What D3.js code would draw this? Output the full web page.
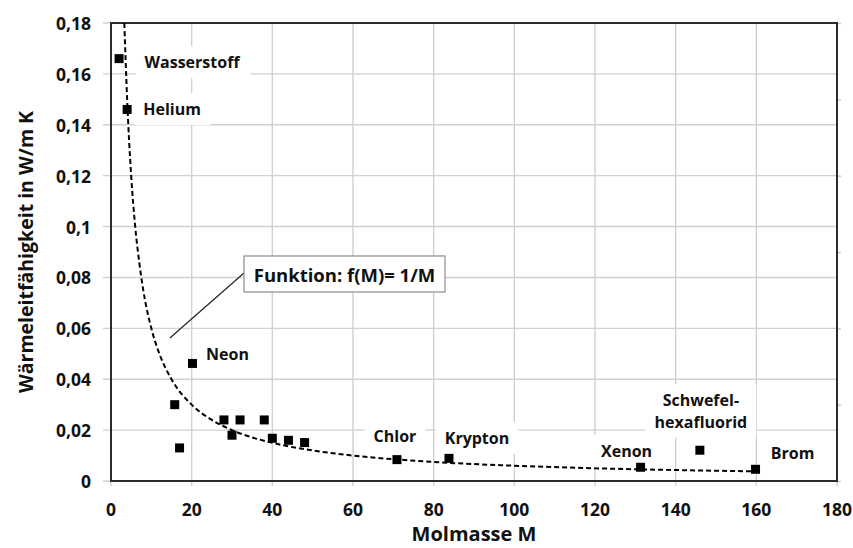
<!DOCTYPE html>
<html>
<head>
<meta charset="utf-8">
<script src="https://cdn.jsdelivr.net/npm/d3@7"></script>
<style>
  body { margin: 0; background: #fff; }
  svg text { font-family: "Open Sans", Lato, sans-serif; font-weight: 700; fill: #111; }
</style>
</head>
<body>
<div id="chart"></div>
<script>
// measured gases: molar mass M and thermal conductivity (W/m K)
const gasNames = ["Wasserstoff", "Helium", "Neon", "", "", "", "", "", "", "", "", "", "Chlor", "Krypton", "Xenon", "Schwefel-\nhexafluorid", "Brom"];
const molMass  = [2, 4, 20.2, 15.8, 17, 28, 30, 32, 38, 40, 44, 48, 70.9, 83.8, 131.3, 146, 159.8];
const conduct  = [0.166, 0.146, 0.0462, 0.030, 0.013, 0.024, 0.018, 0.024, 0.024, 0.0168, 0.016, 0.0151, 0.0084, 0.0089, 0.0054, 0.0121, 0.0046];

// dashed curve f(M)
const curveM   = [3.3, 4, 5, 6, 7, 8, 10, 12, 15, 20, 25, 30, 40, 50, 60, 80, 100, 120, 140, 160];
const curveVal = [0.18, 0.15, 0.12, 0.10, 0.086, 0.075, 0.06, 0.05, 0.04, 0.03, 0.024, 0.02, 0.015, 0.012, 0.01, 0.0075, 0.006, 0.005, 0.0043, 0.0038];

const xTicks = [0, 20, 40, 60, 80, 100, 120, 140, 160, 180];
const yTicks = [0, 0.02, 0.04, 0.06, 0.08, 0.1, 0.12, 0.14, 0.16, 0.18];
const yTickLabels = ["0", "0,02", "0,04", "0,06", "0,08", "0,1", "0,12", "0,14", "0,16", "0,18"];

// label placement relative to each marker (center of text)
const labelOffsets = {
    "Wasserstoff": [73, 4],
    "Helium": [45, 0],
    "Neon": [35, -9],
    "Chlor": [-2, -23],
    "Krypton": [28, -20],
    "Xenon": [-14, -16],
    "Schwefel-\nhexafluorid": [1, -39],
    "Brom": [37, -16]
};

const width = 853, height = 548;
const plotL = 111, plotR = 837, plotT = 23, plotB = 481;

const svg = d3.select("#chart").append("svg")
    .attr("width", width)
    .attr("height", height);

const x = d3.scaleLinear().domain([0, 180]).range([plotL, plotR]);
const y = d3.scaleLinear().domain([0, 0.18]).range([plotB, plotT]);

// grid
const grid = svg.append("g");
grid.selectAll("line.v").data(xTicks).enter().append("line")
    .attr("x1", d => x(d)).attr("x2", d => x(d))
    .attr("y1", plotT).attr("y2", plotB + 5)
    .attr("stroke", "#d0d0d0").attr("stroke-width", 1.4);
grid.selectAll("line.h").data(yTicks).enter().append("line")
    .attr("x1", plotL - 8).attr("x2", plotR)
    .attr("y1", d => y(d)).attr("y2", d => y(d))
    .attr("stroke", "#d0d0d0").attr("stroke-width", 1.4);

// secondary (unlabelled) ticks on the right
const y2 = d3.scaleLinear().domain([0, 6]).range([plotB, plotT]);
svg.append("g")
    .attr("transform", `translate(${plotR},0)`)
    .call(d3.axisRight(y2).ticks(6).tickSize(4).tickFormat(""))
    .call(g => g.select(".domain").remove())
    .call(g => g.selectAll("line").attr("stroke", "#c8c8c8").attr("stroke-width", 1.4));

// tick labels
svg.append("g").selectAll("text").data(xTicks).enter().append("text")
    .attr("x", d => x(d))
    .attr("y", plotB + 28)
    .attr("text-anchor", "middle")
    .attr("dominant-baseline", "central")
    .style("font-size", "17.5px")
    .text(d => d);
svg.append("g").selectAll("text").data(yTicks).enter().append("text")
    .attr("x", plotL - 20)
    .attr("y", d => y(d))
    .attr("text-anchor", "end")
    .attr("dominant-baseline", "central")
    .style("font-size", "17.5px")
    .text((d, i) => yTickLabels[i]);

// axis titles
svg.append("text")
    .attr("x", (plotL + plotR) / 2)
    .attr("y", 533)
    .attr("text-anchor", "middle")
    .attr("dominant-baseline", "central")
    .style("font-size", "20px")
    .text("Molmasse M");
svg.append("text")
    .attr("transform", `translate(25,${(plotT + plotB) / 2}) rotate(-90)`)
    .attr("text-anchor", "middle")
    .attr("dominant-baseline", "central")
    .style("font-size", "19.5px")
    .text("Wärmeleitfähigkeit in W/m K");

// data labels (white boxes first so they hide the grid)
const named = molMass.map((m, i) => ({m: m, k: conduct[i], name: gasNames[i]})).filter(d => d.name !== "");
const labelBg = svg.append("g");
const labelText = [];
named.forEach(d => {
    const off = labelOffsets[d.name];
    const lines = d.name.split("\n");
    const t = svg.append("text")
        .attr("x", x(d.m) + off[0])
        .attr("y", y(d.k) + off[1])
        .attr("text-anchor", "middle")
        .style("font-size", "16px");
    lines.forEach((ln, j) => {
        t.append("tspan")
            .attr("x", x(d.m) + off[0])
            .attr("dy", j === 0 ? (0.35 - (lines.length - 1) * 0.67) + "em" : "1.35em")
            .text(ln);
    });
    labelText.push(t);
});
labelText.forEach(t => {
    const b = t.node().getBBox();
    labelBg.append("rect")
        .attr("x", b.x - 9).attr("y", b.y - 5)
        .attr("width", b.width + 18).attr("height", b.height + 10)
        .attr("fill", "#fff");
});

// plot frame
svg.append("rect")
    .attr("x", plotL).attr("y", plotT)
    .attr("width", plotR - plotL).attr("height", plotB - plotT)
    .attr("fill", "none")
    .attr("stroke", "#2b2b2b")
    .attr("stroke-width", 2);

// dashed curve
const line = d3.line().x(d => x(d[0])).y(d => y(d[1])).curve(d3.curveMonotoneX);
svg.append("path")
    .datum(curveM.map((m, i) => [m, curveVal[i]]))
    .attr("d", line)
    .attr("fill", "none")
    .attr("stroke", "#000")
    .attr("stroke-width", 2)
    .attr("stroke-dasharray", "5,3");

// markers
svg.append("g").selectAll("rect").data(molMass).enter().append("rect")
    .attr("x", d => x(d) - 4.5)
    .attr("y", (d, i) => y(conduct[i]) - 4.5)
    .attr("width", 9).attr("height", 9)
    .attr("fill", "#000");

labelText.forEach(t => t.raise());

// callout for the function
const anchorM = 14.6, anchorK = 0.0562;
svg.append("line")
    .attr("x1", x(anchorM)).attr("y1", y(anchorK))
    .attr("x2", 244).attr("y2", 273)
    .attr("stroke", "#222").attr("stroke-width", 1.2);
svg.append("rect")
    .attr("x", 244).attr("y", 256)
    .attr("width", 201).attr("height", 36)
    .attr("fill", "#fff")
    .attr("stroke", "#8c8c8c").attr("stroke-width", 1.2);
svg.append("text")
    .attr("x", 344.5).attr("y", 274)
    .attr("text-anchor", "middle")
    .attr("dominant-baseline", "central")
    .style("font-size", "18.5px")
    .text("Funktion: f(M)= 1/M");
</script>
</body>
</html>
